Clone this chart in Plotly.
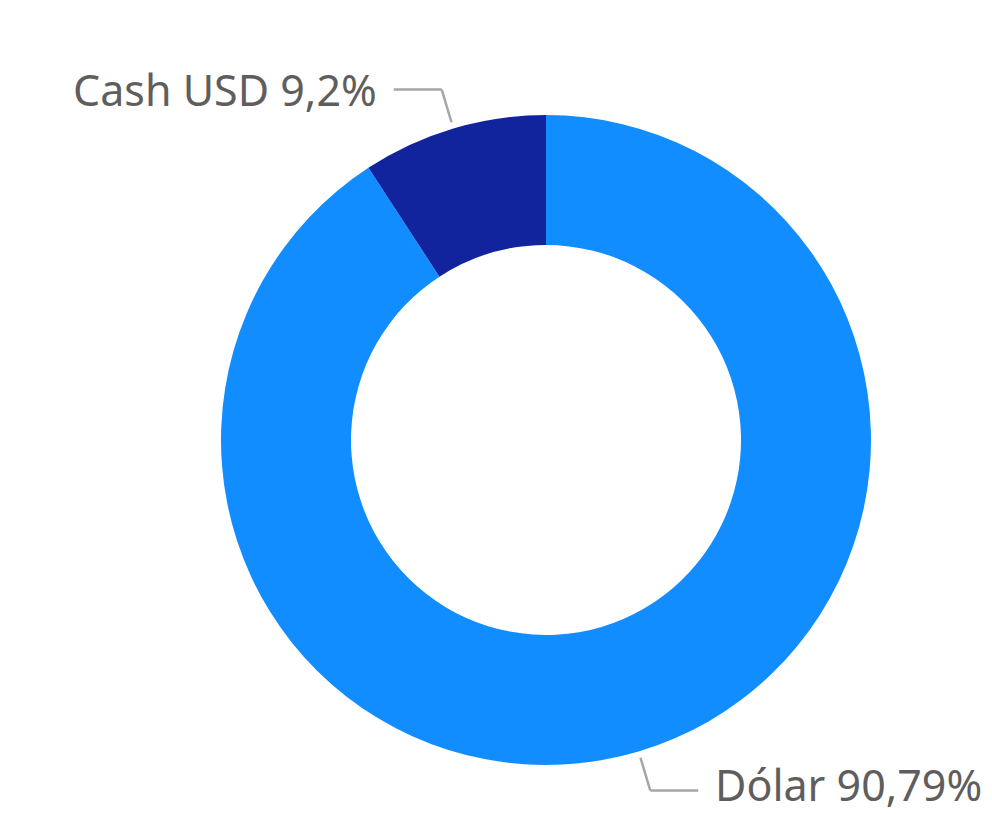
import math
import plotly.graph_objects as go

labels = ["Dólar", "Cash USD"]
values = [90.79, 9.2]
value_text = ["90,79%", "9,2%"]
colors = ["#118DFF", "#12239E"]

OFF = 8  # page body margin
W, H = 992 - OFF, 814 - OFF
cx, cy, R = 546 - OFF, 440 - OFF, 325  # pixel geometry of the donut (figure coords)

fig = go.Figure(go.Pie(
    labels=labels, values=values, hole=0.6, sort=False, direction="clockwise",
    rotation=0, marker=dict(colors=colors, line=dict(width=0)),
    textinfo="none", hoverinfo="label+percent", showlegend=False,
    domain=dict(x=[(cx - R) / W, (cx + R) / W],
                y=[(H - cy - R) / H, (H - cy + R) / H]),
))

def px(x, y):
    return x / W, 1 - y / H

total = sum(values)
cum = 0
shapes, annotations = [], []
for lab, v, t in zip(labels, values, value_text):
    mid = (cum + v / 2) / total * 2 * math.pi
    cum += v
    s, c = math.sin(mid), math.cos(mid)
    x0, y0 = cx + R * 1.02 * s, cy - R * 1.02 * c
    x1, y1 = cx + R * 1.125 * s, cy - R * 1.125 * c
    side = 1 if s > 0 else -1
    x2 = x1 + side * 48
    for (a, b), (d, e) in [((x0, y0), (x1, y1)), ((x1, y1), (x2, y1))]:
        p, q = px(a, b)
        r_, u = px(d, e)
        shapes.append(dict(type="line", xref="paper", yref="paper", x0=p, y0=q, x1=r_, y1=u,
                           line=dict(color="#A6A6A6", width=2.5)))
    ax, ay = px(x2 + side * 15, y1)
    annotations.append(dict(xref="paper", yref="paper", x=ax, y=ay, text=f"{lab} {t}",
                            showarrow=False, xanchor="left" if side > 0 else "right",
                            yanchor="middle", yshift=6 if c < 0 else 0,
                            font=dict(family="Segoe UI, Noto Sans, sans-serif", size=43, color="#605E5C")))

fig.update_layout(width=W, height=H, margin=dict(l=0, r=0, t=0, b=0),
                  paper_bgcolor="white", plot_bgcolor="white",
                  shapes=shapes, annotations=annotations)
fig.write_html("out.html")
